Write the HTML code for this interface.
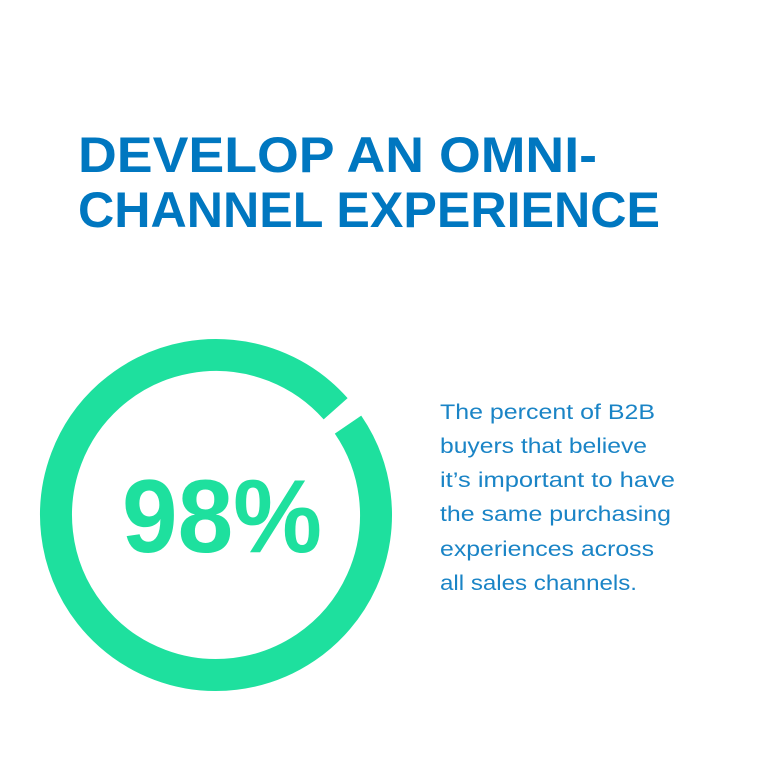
<!DOCTYPE html>
<html><head><meta charset="utf-8"><style>
html,body{margin:0;padding:0;background:#fff;}
svg{display:block;}
</style></head><body>
<svg width="768" height="768" viewBox="0 0 768 768">
<rect width="768" height="768" fill="#fff"/>
<g font-family="Liberation Sans, sans-serif" font-weight="bold" fill="#0077c0" font-size="50">
<text x="78" y="172" textLength="519" lengthAdjust="spacingAndGlyphs">DEVELOP AN OMNI-</text>
<text x="78" y="227" textLength="582" lengthAdjust="spacingAndGlyphs">CHANNEL EXPERIENCE</text>
</g>
<g id="ring"></g>
<text x="222" y="552" text-anchor="middle" font-family="Liberation Sans, sans-serif" font-weight="bold" font-size="104" fill="#1ee09e" textLength="200" lengthAdjust="spacingAndGlyphs">98%</text>
<g font-family="Liberation Sans, sans-serif" font-size="21" fill="#1a84c6">
<text x="440" y="419" textLength="215" lengthAdjust="spacingAndGlyphs">The percent of B2B</text>
<text x="440" y="453" textLength="207" lengthAdjust="spacingAndGlyphs">buyers that believe</text>
<text x="440" y="487" textLength="235" lengthAdjust="spacingAndGlyphs">it’s important to have</text>
<text x="440" y="521" textLength="231" lengthAdjust="spacingAndGlyphs">the same purchasing</text>
<text x="440" y="556" textLength="214" lengthAdjust="spacingAndGlyphs">experiences across</text>
<text x="440" y="590" textLength="197" lengthAdjust="spacingAndGlyphs">all sales channels.</text>
</g>
</svg>
<script>
const percentValue = [98];
const gapCenterDeg = [52];
const cx = 216, cy = 515, r = 160, sw = 32;
const g = document.getElementById('ring');
const pct = percentValue[0] / 100;
const gapDeg = (1 - pct) * 360;
const startDeg = gapCenterDeg[0] + gapDeg / 2;
const endDeg = startDeg + pct * 360;
function pt(d){const a=(d-90)*Math.PI/180;return [cx+r*Math.cos(a), cy+r*Math.sin(a)];}
const [x1,y1]=pt(startDeg),[x2,y2]=pt(endDeg);
const large = pct*360 > 180 ? 1 : 0;
const p = document.createElementNS('http://www.w3.org/2000/svg','path');
p.setAttribute('d',`M${x1} ${y1} A${r} ${r} 0 ${large} 1 ${x2} ${y2}`);
p.setAttribute('fill','none');
p.setAttribute('stroke','#1ee09e');
p.setAttribute('stroke-width',sw);


g.appendChild(p);
</script>
</body></html>
